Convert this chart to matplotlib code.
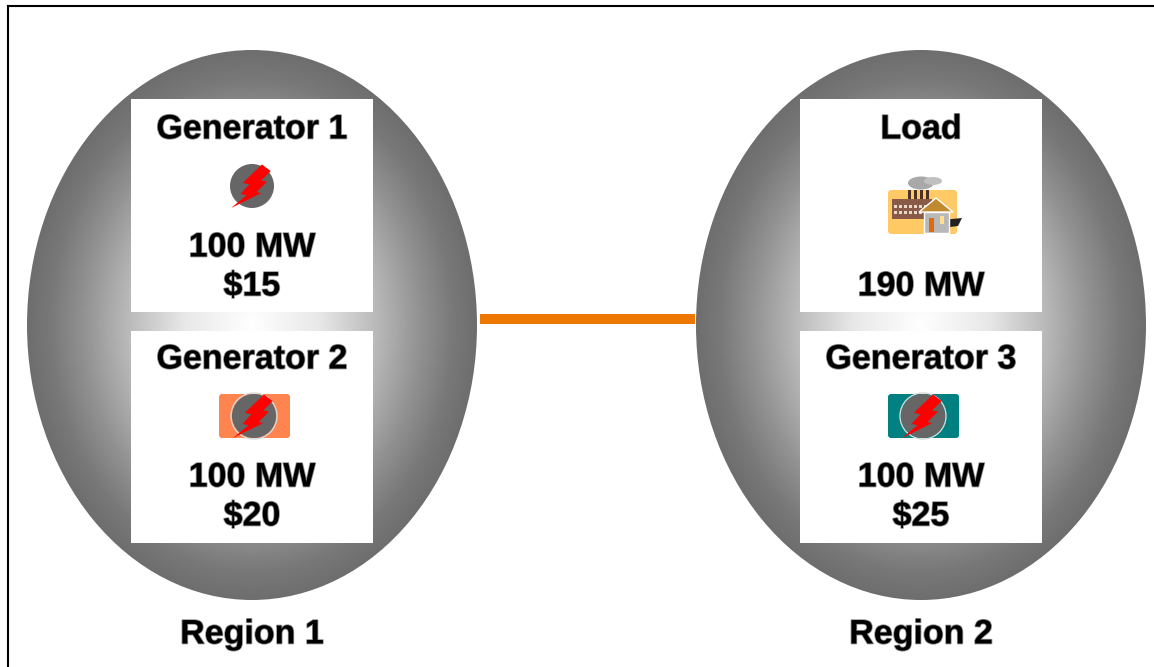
import numpy as np
import matplotlib
matplotlib.use("Agg")
import matplotlib.pyplot as plt
import matplotlib.patheffects as pe
from matplotlib.patches import Ellipse, Rectangle, Circle, Polygon, FancyBboxPatch
from matplotlib.colors import LinearSegmentedColormap

W, H = 1154, 667

region_names = ["Region 1", "Region 2"]
box_titles = ["Generator 1", "Generator 2", "Load", "Generator 3"]
box_mw = ["100 MW", "100 MW", "", "100 MW"]
box_price = ["$15", "$20", "190 MW", "$25"]
icon_colors = [None, "#ff8450", None, "#008080"]

plt.rcParams["font.family"] = ["Liberation Sans", "DejaVu Sans"]
plt.rcParams["font.weight"] = "bold"

GRAY = LinearSegmentedColormap.from_list(
    "ball", [(0, "#ffffff"), (0.3, "#e8e8e8"), (0.54, "#bcbcbc"), (0.75, "#929292"), (0.9, "#787878"), (1, "#6e6e6e")])
BOLT = np.array([[0.45, -0.98], [0.85, -0.68], [0.42, -0.25], [0.68, -0.2], [0.2, 0.28],
                 [0.42, 0.32], [-0.95, 1.0], [-0.25, 0.42], [-0.52, 0.36], [-0.12, -0.08],
                 [-0.42, -0.14]])


def label(ax, x, y, s, size=24.5):
    # thin gray stroke, the original text is a bit blurred
    ax.text(x, y, s, fontsize=size, color="black", ha="center", va="center", zorder=6,
            path_effects=[pe.withStroke(linewidth=1.2, foreground="#909090")])


def bolt_icon(ax, x, y, back=None):
    if back is not None:
        ax.add_patch(FancyBboxPatch((x - 35, y - 22), 71, 44, boxstyle="round,pad=0,rounding_size=3",
                                    fc=back, ec="none", zorder=3))
        ax.add_patch(Circle((x, y), 23, fc="none", ec="#d8d8d8", lw=1, zorder=3))
    ax.add_patch(Circle((x, y), 22, fc="#666666", ec="none", zorder=4))
    ax.add_patch(Polygon(BOLT * 22 + [x, y], closed=True, fc="#ff0000", ec="none", zorder=4.5))


def load_icon(ax, x, y):
    ax.add_patch(FancyBboxPatch((x - 34, y - 21), 69, 44, boxstyle="round,pad=0,rounding_size=3",
                                fc="#ffc966", ec="none", zorder=3))
    ax.add_patch(Ellipse((x - 1, y - 28), 26, 13, fc="#a9a9a9", ec="none", zorder=3.2))
    ax.add_patch(Ellipse((x + 11, y - 30), 18, 8, fc="#c0c0c0", ec="none", zorder=3.2))
    ax.add_patch(Rectangle((x - 30, y - 12), 40, 20, fc="#8a5a48", ec="none", zorder=3.3))
    for sx in (-14, -8, -2, 4):
        ax.add_patch(Rectangle((x + sx, y - 21), 3, 9, fc="#4a3028", ec="none", zorder=3.3))
    for ry in (-6, 0):
        for wx in range(-28, 8, 5):
            ax.add_patch(Rectangle((x + wx, y + ry), 3, 3, fc="#e8d8c8", ec="none", zorder=3.4))
    ax.add_patch(Polygon([[x + 20, y + 9], [x + 40, y + 7], [x + 36, y + 15], [x + 20, y + 17]],
                         fc="#222222", ec="none", zorder=3.4))
    ax.add_patch(Rectangle((x + 2, y + 1), 25, 21, fc="#b8b8b8", ec="white", lw=1, zorder=3.6))
    ax.add_patch(Polygon([[x - 3, y + 1], [x + 14, y - 13], [x + 31, y + 1]],
                         fc="#c08a30", ec="white", lw=1, zorder=3.7))
    ax.add_patch(Rectangle((x + 7, y + 7), 5, 14, fc="#e06a10", ec="none", zorder=3.8))
    ax.add_patch(Rectangle((x + 18, y + 5), 4, 8, fc="#ffe090", ec="none", zorder=3.8))


fig = plt.figure(figsize=(W / 100, H / 100), dpi=100, facecolor="white")
ax = fig.add_axes([0, 0, 1, 1])
ax.set_xlim(0, W)
ax.set_ylim(H, 0)
ax.axis("off")

# frame, only top and left are visible in the crop
ax.plot([8, 8], [6, H + 5], color="black", lw=1.5, zorder=0, solid_capstyle="projecting")
ax.plot([8, W + 5], [6, 6], color="black", lw=1.5, zorder=0, solid_capstyle="projecting")

# link between the regions
ax.add_patch(Rectangle((480, 314), 215, 10, fc="#ee7700", ec="none", zorder=1))

centers = [252, 921]
gx, gy = np.meshgrid(np.linspace(-1, 1, 500), np.linspace(-1, 1, 500))
grad = np.sqrt(gx ** 2 + gy ** 2)

for i, cx in enumerate(centers):
    extent = (cx - 225, cx + 225, 600, 50)
    im = ax.imshow(grad, cmap=GRAY, vmin=0, vmax=1, extent=extent, aspect="auto", zorder=1.5)
    clip = Ellipse((cx, 325), 450, 550, transform=ax.transData, fc="none", ec="none")
    ax.add_patch(clip)
    im.set_clip_path(clip)
    ax.add_patch(Rectangle((cx - 121, 99), 242, 213, fc="white", ec="none", zorder=2))
    ax.add_patch(Rectangle((cx - 121, 331), 242, 212, fc="white", ec="none", zorder=2))
    label(ax, cx, 635, region_names[i])

ax.set_xlim(0, W)
ax.set_ylim(H, 0)

for i in range(4):
    cx = centers[i // 2]
    y0 = 0 if i % 2 == 0 else 230
    label(ax, cx, 130 + y0, box_titles[i])
    if box_mw[i]:
        label(ax, cx, 248 + y0, box_mw[i])
    label(ax, cx, 287 + y0, box_price[i].replace("$", r"\$"))

bolt_icon(ax, 252, 186)
bolt_icon(ax, 254, 416, icon_colors[1])
load_icon(ax, 922, 211)
bolt_icon(ax, 923, 416, icon_colors[3])

fig.savefig("out.png", dpi=100, facecolor="white")
